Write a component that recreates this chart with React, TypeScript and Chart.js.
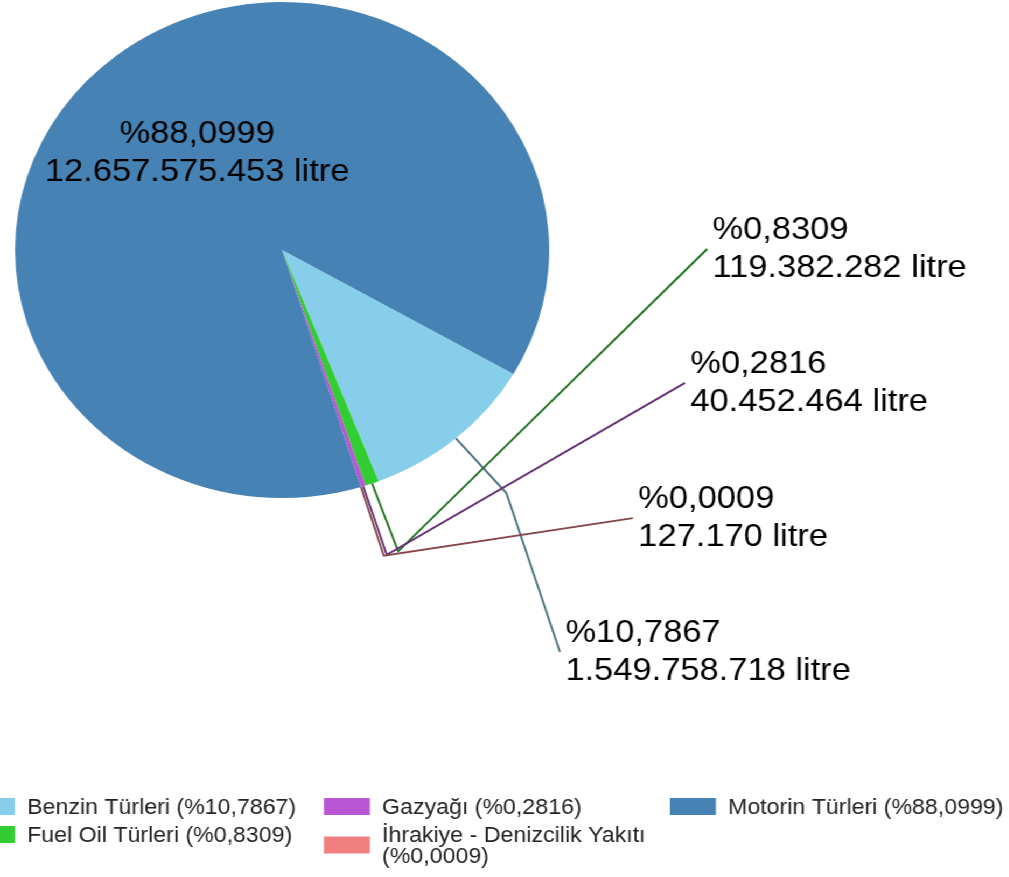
import React, { useEffect, useRef } from "react";
import { Chart, registerables } from "chart.js";

Chart.register(...registerables);

// ---- data ----
const categories = [
  "Benzin Türleri",
  "Fuel Oil Türleri",
  "Gazyağı",
  "İhrakiye - Denizcilik Yakıtı",
  "Motorin Türleri",
];
const litres = [1549758718, 119382282, 40452464, 127170, 12657575453];
const sliceColors = ["#87CEEB", "#32CD32", "#BA55D3", "#F08080", "#4682B4"];

// ---- layout ----
const SCALE_X = 1.077;
const W = 937;
const H = 877;
const FONT = '"Liberation Sans", Arial, Helvetica, sans-serif';
const LABEL_FONT = 32;
const LEGEND_FONT = 21.5;
const ELBOW = 72;
const INSIDE_R = 0.51;
// label anchors relative to pie centre, in units of the radius (null = inside label)
const labelAnchors: (number[] | null)[] = [
  [1.04, 1.621],
  [1.591, -0.004],
  [1.508, 0.536],
  [1.313, 1.081],
  null,
];
const legendColX = [-28.8, 300.8, 622];
const legendRowY = [806.5, 834.5];
const LEGEND_BOX_W = 42.7;
const LEGEND_BOX_H = 17;
const LEGEND_TEXT_DX = 54;
const LEGEND_WRAP = 265;
const LEGEND_LINE_H = 21;

const total = litres.reduce((a, b) => a + b, 0);
const fmtThousands = (n: number) =>
  String(Math.round(n)).replace(/\B(?=(\d{3})+(?!\d))/g, ".");
const fmtPct = (v: number) => "%" + ((v / total) * 100).toFixed(4).replace(".", ",");

function darken(hex: string, f = 0.5) {
  const n = parseInt(hex.slice(1), 16);
  const r = Math.round(((n >> 16) & 255) * f);
  const g = Math.round(((n >> 8) & 255) * f);
  const b = Math.round((n & 255) * f);
  return `rgb(${r},${g},${b})`;
}

function wrapText(ctx: CanvasRenderingContext2D, text: string, maxW: number) {
  const words = text.split(" ");
  const lines: string[] = [];
  let cur = "";
  for (const w of words) {
    const test = cur ? cur + " " + w : w;
    if (cur && ctx.measureText(test).width > maxW) {
      lines.push(cur);
      cur = w;
    } else cur = test;
  }
  if (cur) lines.push(cur);
  return lines;
}

const labelPlugin = {
  id: "leaderLabels",
  afterDatasetsDraw(chart: any) {
    const ctx: CanvasRenderingContext2D = chart.ctx;
    const meta = chart.getDatasetMeta(0);
    const values: number[] = chart.data.datasets[0].data;
    meta.data.forEach((arc: any, i: number) => {
      const { x, y, startAngle, endAngle, outerRadius } = arc.getProps(
        ["x", "y", "startAngle", "endAngle", "outerRadius"],
        true
      );
      const mid = (startAngle + endAngle) / 2;
      const c = Math.cos(mid);
      const s = Math.sin(mid);
      const l1 = fmtPct(values[i]);
      const l2 = fmtThousands(values[i]) + " litre";
      ctx.save();
      ctx.font = `${LABEL_FONT}px ${FONT}`;
      ctx.fillStyle = "#000";
      ctx.textBaseline = "alphabetic";
      const anchor = labelAnchors[i];
      if (!anchor) {
        const cx = x + c * outerRadius * INSIDE_R;
        const cy = y + s * outerRadius * INSIDE_R;
        ctx.textAlign = "center";
        ctx.fillText(l1, cx, cy - 19 + 11);
        ctx.fillText(l2, cx, cy + 19 + 11);
      } else {
        const p0x = x + c * outerRadius;
        const p0y = y + s * outerRadius;
        const p1x = x + c * (outerRadius + ELBOW);
        const p1y = y + s * (outerRadius + ELBOW);
        const p2x = x + anchor[0] * outerRadius;
        const p2y = y + anchor[1] * outerRadius;
        ctx.strokeStyle = darken(sliceColors[i], 0.55);
        ctx.lineWidth = 1.9;
        ctx.beginPath();
        ctx.moveTo(p0x, p0y);
        ctx.lineTo(p1x, p1y);
        ctx.lineTo(p2x, p2y);
        ctx.stroke();
        ctx.textAlign = "left";
        ctx.fillText(l1, p2x + 5, p2y - 10);
        ctx.fillText(l2, p2x + 5, p2y + 28);
      }
      ctx.restore();
    });

    // custom legend (column-major, 2 rows per column)
    ctx.save();
    ctx.font = `${LEGEND_FONT}px ${FONT}`;
    ctx.textAlign = "left";
    ctx.textBaseline = "alphabetic";
    categories.forEach((cat, i) => {
      const col = Math.floor(i / 2);
      const row = i % 2;
      const bx = legendColX[col];
      const y0 = legendRowY[row];
      const lines = wrapText(ctx, `${cat} (${fmtPct(values[i])})`, LEGEND_WRAP);
      const yMid = y0 + ((lines.length - 1) * LEGEND_LINE_H) / 2;
      ctx.fillStyle = sliceColors[i];
      ctx.fillRect(bx, yMid - LEGEND_BOX_H / 2, LEGEND_BOX_W, LEGEND_BOX_H);
      ctx.fillStyle = "#222";
      lines.forEach((ln, k) => {
        ctx.fillText(ln, bx + LEGEND_TEXT_DX, y0 + k * LEGEND_LINE_H + 7.7);
      });
    });
    ctx.restore();
  },
};

export default function App() {
  const ref = useRef<HTMLCanvasElement | null>(null);
  useEffect(() => {
    if (!ref.current) return;
    const cx = 262;
    const cy = 250;
    const r = 248;
    const chart = new Chart(ref.current, {
      type: "pie",
      data: {
        labels: categories,
        datasets: [
          {
            data: litres,
            backgroundColor: sliceColors,
            borderWidth: 0,
            hoverOffset: 0,
            offset: 0,
          },
        ],
      },
      options: {
        responsive: false,
        animation: false,
        rotation: 120,
        layout: {
          padding: {
            left: cx - r,
            top: cy - r,
            right: W - cx - r,
            bottom: H - cy - r,
          },
        },
        plugins: {
          legend: { display: false },
          tooltip: { enabled: false },
        },
      },
      plugins: [labelPlugin],
    });
    return () => chart.destroy();
  }, []);
  return (
    <div
      style={{
        position: "fixed",
        left: 0,
        top: 0,
        width: W,
        height: H,
        transform: `scaleX(${SCALE_X})`,
        transformOrigin: "0 0",
        background: "#fff",
      }}
    >
      <canvas ref={ref} width={W} height={H} style={{ display: "block" }} />
    </div>
  );
}
